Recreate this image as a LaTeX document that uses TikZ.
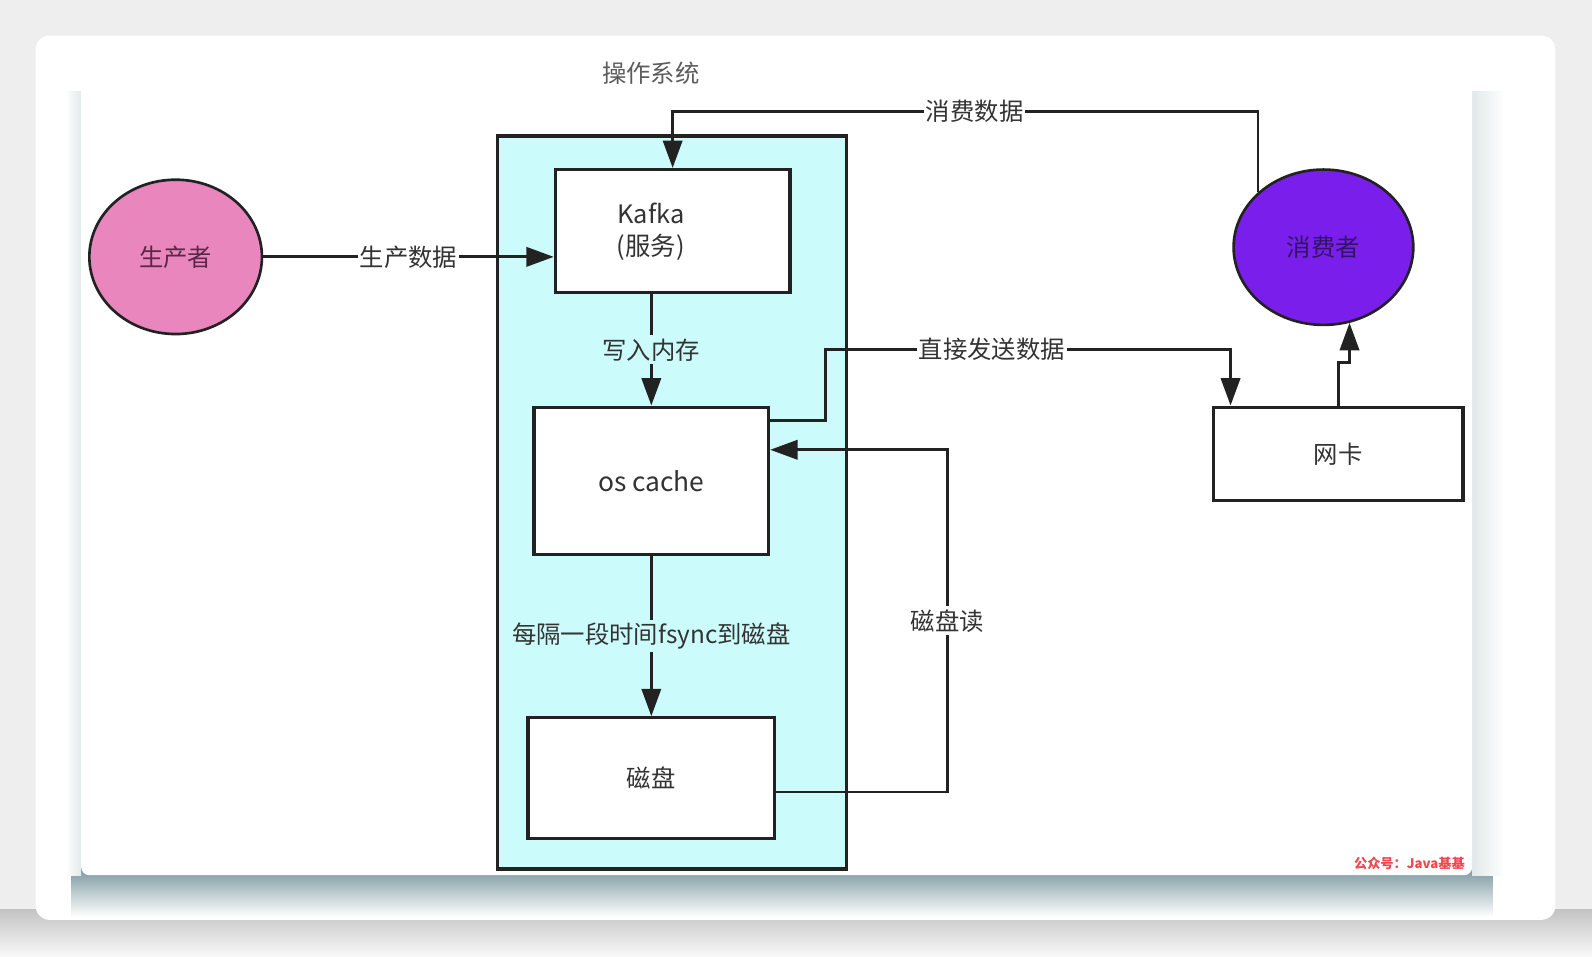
\documentclass[tikz,border=0pt]{standalone}
\usepackage{fontspec}
\newfontfamily\cjk{Noto Sans CJK SC}
\usetikzlibrary{arrows.meta, shapes.geometric}

\definecolor{linec}{RGB}{34,34,34}
\definecolor{txtc}{RGB}{51,51,51}
\definecolor{osbg}{RGB}{204,251,251}
\definecolor{prodfill}{RGB}{232,134,189}
\definecolor{prodtext}{RGB}{90,40,70}
\definecolor{consfill}{RGB}{122,30,236}
\definecolor{constext}{RGB}{50,20,100}
\definecolor{pagebg}{RGB}{238,238,238}
\definecolor{shadowteal}{RGB}{122,152,158}
\definecolor{markred}{RGB}{240,70,80}

\begin{document}
\begin{tikzpicture}[x=0.5pt, y=-0.5pt,
    cjktext/.style={font=\cjk\fontsize{12}{14}\selectfont, text=txtc},
    svcbox/.style={draw=linec, line width=1.6pt, fill=white, inner sep=0pt, cjktext},
    roundnode/.style={ellipse, draw=linec, line width=1.3pt, inner sep=0pt, cjktext},
    flowline/.style={draw=linec, line width=1.4pt, -{Triangle[length=13.5pt, width=9.5pt]}},
    flowlabel/.style={cjktext, fill=white, inner xsep=1pt, inner ysep=1.5pt}]

        \useasboundingbox (0,0) rectangle (1568,941.6);
        \fill[pagebg] (0,0) rectangle (1568,941.6);
        \shade[top color=pagebg!82!black, bottom color=pagebg!40!white] (0,896) rectangle (1568,941.6);
        \fill[white, rounded corners=7pt] (35,35) rectangle (1532,906);
        \shade[top color=shadowteal, bottom color=white] (70,855) rectangle (1470,903);
        \shade[left color=white, right color=shadowteal!22!white] (64,90) rectangle (80,862);
        \shade[left color=shadowteal!22!white, right color=white] (1450,90) rectangle (1482,862);
        \fill[white, rounded corners=4pt] (80,55) rectangle (1450,862);

        \node[cjktext, text=txtc!80!white] (ostitle) at (641,72) {操作系统};
        \node[svcbox, fill=osbg, minimum width=172pt, minimum height=361pt] (os) at (662,495) {};
        \node[svcbox, minimum width=115.5pt, minimum height=60.5pt] (kafka) at (662.5,227.5) {};
        \node[cjktext, align=center, font=\cjk\fontsize{12.5}{15.5}\selectfont] (kafkatext) at (641,228) {Kafka\\(服务)};
        \node[svcbox, minimum width=115.5pt, minimum height=72.5pt, font=\cjk\fontsize{13}{15}\selectfont] (cache) at (641.5,473.5) {os cache};
        \node[svcbox, minimum width=121.5pt, minimum height=59.5pt] (disk) at (641.5,766.5) {磁盘};
        \node[svcbox, minimum width=123pt, minimum height=46pt] (nic) at (1318,447) {网卡};
        \node[roundnode, fill=prodfill, minimum width=85pt, minimum height=76pt, text=prodtext] (producer) at (173,253) {生产者};
        \node[roundnode, fill=consfill, minimum width=88.5pt, minimum height=76.5pt, text=constext] (consumer) at (1303.5,243.5) {消费者};

        \draw[flowline] (producer.east) -- (producer.east -| kafka.west) node[flowlabel, midway] {生产数据};
        \draw[flowline] (kafka.south -| cache.north) -- (cache.north) node[flowlabel, fill=osbg, midway] {写入内存};
        \draw[flowline] (cache.south) -- (disk.north) node[flowlabel, fill=osbg, midway] {每隔一段时间fsync到磁盘};

        \coordinate (rdA) at (933,780);
        \coordinate (rdB) at (933,443);
        \draw[flowline] (disk.east |- rdA) -- (rdA) -- node[flowlabel] {磁盘读} (rdB) -- (cache.east |- rdB);

        \coordinate (cs) at (960,110);
        \draw[flowline] (consumer.140) |- (cs) node[flowlabel] {消费数据} -| (kafka.north);

        \coordinate (sdA) at (813,414);
        \coordinate (sd) at (977,344);
        \coordinate (sdB) at ([xshift=-53pt]nic.north);
        \draw[flowline] (cache.east |- sdA) -- (sdA) |- (sd) node[flowlabel] {直接发送数据} -| (sdB);

        \draw[flowline] (nic.north) -- ++(0,-42.5) -| (consumer.-71);

        \node[anchor=east, inner sep=0pt, font=\cjk\bfseries\fontsize{6.5}{8}\selectfont, text=markred] (mark) at (1443,850) {公众号：Java基基};
\end{tikzpicture}
\end{document}
